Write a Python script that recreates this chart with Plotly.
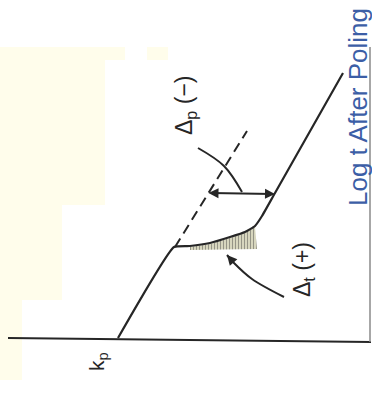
import plotly.graph_objects as go

# sketch coordinates (log t along x, response level along y, y grows downward)
base_x = [8, 371]
base_y = [338, 342]

path_x = [118, 174, 190, 210, 230, 245, 255, 262, 275, 343]
path_y = [338, 247, 246, 243, 237, 232, 226, 216, 193, 73]

extrap_x = [175, 247]
extrap_y = [247, 131]

frame_x = [370, 370]
frame_y = [47, 342]

hatch_x = [190, 210, 230, 245, 255, 257, 190]
hatch_y = [247, 244, 238, 233, 227, 249, 250]

dp_arrow_x = [207, 275]
dp_arrow_y = [193, 194]

dp_lead_x = [198, 224, 242]
dp_lead_y = [148, 166, 192]

dt_lead_x = [284, 252, 234, 227]
dt_lead_y = [297, 279, 263, 255]

labels = ["Δ<sub>p</sub> (−)", "Δ<sub>t</sub> (+)", "k<sub>p</sub>", "Log t After Poling"]
label_x = [185, 303, 98, 358]
label_y = [106, 270, 362, 107]

INK = "#262626"
BLUE = "#3c5ea6"
CREAM = "#fffdeb"

fig = go.Figure()

fig.add_trace(go.Scatter(x=hatch_x, y=hatch_y, mode="lines", fill="toself",
                         line=dict(width=0, color=INK), fillcolor="#f6f4d8",
                         fillpattern=dict(shape="|", size=3, solidity=0.55,
                                          fgcolor="#333333", bgcolor="#f6f4d8"),
                         hoverinfo="skip"))
fig.add_trace(go.Scatter(x=base_x, y=base_y, mode="lines", line=dict(color=INK, width=2)))
fig.add_trace(go.Scatter(x=path_x, y=path_y, mode="lines",
                         line=dict(color=INK, width=2.2, shape="spline", smoothing=0.4)))
fig.add_trace(go.Scatter(x=extrap_x, y=extrap_y, mode="lines",
                         line=dict(color=INK, width=2, dash="10px,6px")))
fig.add_trace(go.Scatter(x=frame_x, y=frame_y, mode="lines", line=dict(color="#8a8a8a", width=1.5)))
fig.add_trace(go.Scatter(x=dp_lead_x, y=dp_lead_y, mode="lines",
                         line=dict(color=INK, width=2, shape="spline")))
fig.add_trace(go.Scatter(x=dt_lead_x, y=dt_lead_y, mode="lines",
                         line=dict(color=INK, width=2, shape="spline")))

# arrows
fig.add_annotation(x=dp_arrow_x[1], y=dp_arrow_y[1], ax=dp_arrow_x[0], ay=dp_arrow_y[0],
                   xref="x", yref="y", axref="x", ayref="y", text="", showarrow=True,
                   arrowhead=2, arrowside="end+start", arrowsize=1, arrowwidth=2, arrowcolor=INK)
fig.add_annotation(x=dt_lead_x[-1], y=dt_lead_y[-1], ax=dt_lead_x[-2], ay=dt_lead_y[-2],
                   xref="x", yref="y", axref="x", ayref="y", text="", showarrow=True,
                   arrowhead=2, arrowsize=1, arrowwidth=2, arrowcolor=INK)

# labels (rotated like the scanned figure)
sizes = [23, 23, 21, 26]
colors = [INK, INK, INK, BLUE]
for t, lx, ly, s, c in zip(labels, label_x, label_y, sizes, colors):
    fig.add_annotation(x=lx, y=ly, text=t, showarrow=False, textangle=-90,
                       xanchor="center", yanchor="middle",
                       font=dict(family="Liberation Sans, Arial, sans-serif", size=s, color=c))

# pale scan tint on the left
for x0, x1, y0, y1 in [(0, 105, 47, 205), (0, 62, 205, 300), (0, 22, 300, 380),
                       (60, 125, 47, 60), (147, 168, 47, 60)]:
    fig.add_shape(type="rect", x0=x0, x1=x1, y0=y0, y1=y1, xref="x", yref="y",
                  fillcolor=CREAM, line=dict(width=0), layer="below")

fig.update_layout(width=372, height=397, autosize=False, showlegend=False,
                  margin=dict(l=0, r=0, t=0, b=0),
                  paper_bgcolor="white", plot_bgcolor="white",
                  xaxis=dict(range=[0, 372], visible=False, fixedrange=True),
                  yaxis=dict(range=[397, 0], visible=False, fixedrange=True))

fig.write_html("out.html", config={"displayModeBar": False},
               post_script="document.body.style.margin='0';")
